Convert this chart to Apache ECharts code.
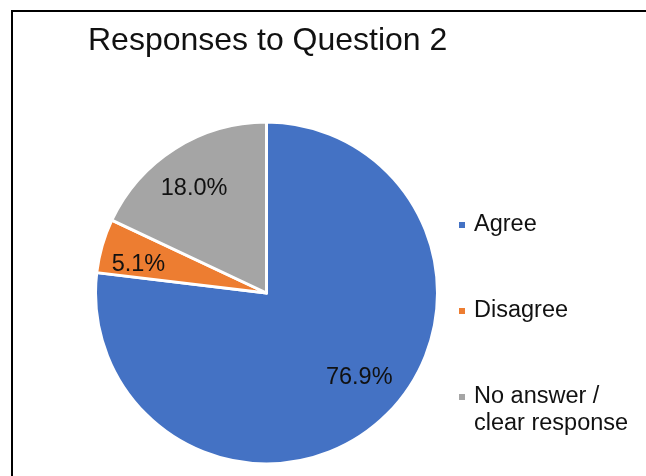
<!DOCTYPE html>
<html>
<head>
<meta charset="utf-8">
<title>Responses to Question 2</title>
<script src="https://cdn.jsdelivr.net/npm/echarts@6/dist/echarts.min.js"></script>
<style>
  html, body { margin: 0; padding: 0; background: #fff; overflow: hidden; width: 646px; height: 476px; }
  #chart { position: absolute; left: 0; top: 0; width: 646px; height: 476px; }
  #frame {
    position: absolute; left: 11px; top: 10px; width: 633px; height: 464px;
    border-left: 2px solid #000; border-top: 2px solid #000;
    pointer-events: none; z-index: 2;
  }
</style>
</head>
<body>
<div id="chart"></div>
<div id="frame"></div>
<script>
// Survey answers for question 2 (percent of respondents)
const categories = ['Agree', 'Disagree', 'No answer / clear response'];
const legendNames = ['Agree', 'Disagree', 'No answer /\nclear response'];
const shares = [76.9, 5.1, 18.0];
const colors = ['#4472C4', '#ED7D31', '#A5A5A5'];

// Nudges that move each percentage label away from the mid-radius spot
const labelOffsets = [[34, 18], [-43, -4], [-25, -30]];

const FONT = '"Liberation Sans", Arial, sans-serif';

const pieData = categories.map((name, i) => ({
  name: legendNames[i],
  value: shares[i],
  itemStyle: { color: colors[i] },
  label: { offset: labelOffsets[i] }
}));

const legendBase = {
  orient: 'vertical',
  left: 457,
  padding: 0,
  icon: 'rect',
  itemWidth: 8,
  itemHeight: 8,
  selectedMode: false,
  textStyle: { fontFamily: FONT, fontSize: 23.5, color: '#111', lineHeight: 27, padding: [0, 0, 0, 3] }
};

const chart = echarts.init(document.getElementById('chart'), null, { renderer: 'canvas' });
chart.setOption({
  animation: false,
  backgroundColor: '#fff',
  title: {
    text: 'Responses to Question 2',
    left: 88,
    top: 25,
    padding: 0,
    textStyle: { fontFamily: FONT, fontSize: 32, fontWeight: 'normal', color: '#111' }
  },
  legend: [
    Object.assign({}, legendBase, { top: 211.5, data: [legendNames[0]] }),
    Object.assign({}, legendBase, { top: 297.5, data: [legendNames[1]] }),
    // two-line entry: a blank leading line keeps the marker beside the first text line
    Object.assign({}, legendBase, {
      top: 356.5,
      data: [legendNames[2]],
      formatter: name => '\n' + name
    })
  ],
  series: [{
    type: 'pie',
    center: [266.5, 293],
    radius: [0, 171],
    startAngle: 90,
    clockwise: true,
    avoidLabelOverlap: false,
    itemStyle: { borderColor: '#fff', borderWidth: 3 },
    label: {
      show: true,
      position: 'inside',
      fontFamily: FONT,
      fontSize: 23.5,
      color: '#111',
      formatter: p => p.value.toFixed(1) + '%'
    },
    labelLine: { show: false },
    emphasis: { disabled: true },
    data: pieData
  }]
});
</script>
</body>
</html>
